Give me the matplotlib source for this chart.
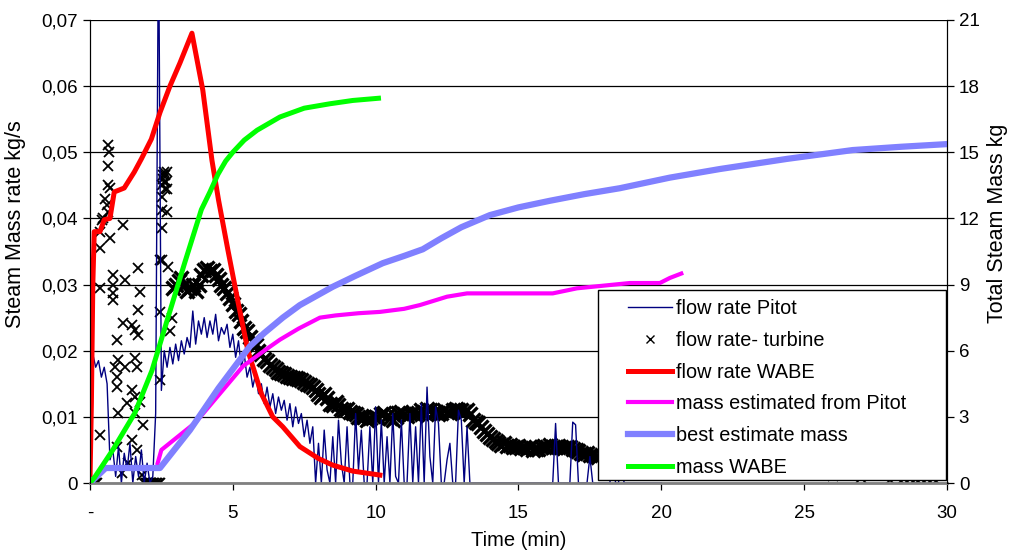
import numpy as np
import matplotlib.pyplot as plt
from matplotlib.lines import Line2D
from matplotlib.patches import Rectangle
from matplotlib.ticker import FuncFormatter

plt.rcParams['font.family'] = ['Liberation Sans', 'DejaVu Sans']

# ---- flow rate Pitot (kg/s), one sample every 0.1 min from t=0 ----
pitot_v = [
    0.0, 0.0195, 0.0175, 0.0185, 0.016, 0.0175, 0.015, 0.0035, 0.005, 0.001,
    0.0055, 0.0, 0.0045, 0.002, 0.006, 0.0, 0.004, 0.001, 0.005, 0.0,
    0.003, 0.0, 0.001, 0.0105, 0.085, 0.014, 0.020, 0.0175, 0.0205, 0.018,
    0.021, 0.0185, 0.0215, 0.0195, 0.022, 0.0205, 0.026, 0.021, 0.0245, 0.0225,
    0.025, 0.022, 0.0245, 0.0225, 0.0255, 0.0215, 0.0235, 0.0225, 0.024, 0.0205,
    0.0225, 0.019, 0.0215, 0.0175, 0.0195, 0.016, 0.0175, 0.0145, 0.0165, 0.0135,
    0.015, 0.012, 0.0145, 0.0115, 0.0135, 0.0105, 0.013, 0.011, 0.0125, 0.0095,
    0.012, 0.0085, 0.0115, 0.009, 0.0105, 0.007, 0.0095, 0.006, 0.0085, 0.0,
    0.006, 0.0, 0.008, 0.002, 0.0, 0.007, 0.0, 0.0095, 0.003, 0.0,
    0.0085, 0.0, 0.0, 0.0105, 0.002, 0.008, 0.0, 0.0, 0.0085, 0.0,
    0.0115, 0.0, 0.0095, 0.0, 0.007, 0.0, 0.0105, 0.001, 0.0, 0.0095,
    0.0, 0.0, 0.0105, 0.0, 0.0085, 0.0, 0.012, 0.0, 0.0145, 0.004,
    0.0, 0.0115, 0.009, 0.0, 0.0, 0.0035, 0.006, 0.0, 0.0, 0.011,
    0.0095, 0.0, 0.0085, 0.0, 0.0, 0.0, 0.0, 0.0, 0.0, 0.0,
    0.0, 0.0, 0.0, 0.0, 0.0, 0.0, 0.0, 0.0, 0.0, 0.0,
    0.0, 0.0, 0.0, 0.0, 0.0, 0.0, 0.0, 0.0, 0.0, 0.0,
    0.0, 0.0, 0.0, 0.009, 0.0, 0.0, 0.0, 0.0, 0.0, 0.0092,
    0.0088, 0.0, 0.0, 0.0, 0.0, 0.004, 0.0, 0.0, 0.0, 0.0,
    0.0, 0.0, 0.0, 0.004, 0.0, 0.0, 0.003, 0.0, 0.0, 0.0,
    0.0, 0.0, 0.0, 0.0, 0.0, 0.0, 0.0, 0.0, 0.0, 0.0,
    0.0,
]
pitot_t = np.arange(len(pitot_v)) * 0.1

# ---- flow rate turbine (kg/s) ----
# scattered readings during the first minutes
turb_early_t = [0.0, 0.05, 0.1, 0.15, 0.2, 0.25, 0.18, 0.35, 0.35, 0.35, 0.35, 0.42, 0.46,
                0.53, 0.6, 0.63, 0.63, 0.66, 0.63, 0.63, 0.70, 0.70, 0.80, 0.80, 0.80,
                0.80, 0.875, 0.945, 0.945, 0.945, 0.945, 0.98, 0.98, 1.12, 1.155, 1.155,
                1.225, 1.225, 1.3, 1.33, 1.47, 1.47, 1.47, 1.575, 1.575, 1.575, 1.575,
                1.645, 1.645, 1.68, 1.68, 1.68, 1.75, 1.75, 1.82, 1.855, 1.9, 1.95, 2.0,
                2.05, 2.1, 2.15, 2.2, 2.25, 2.3, 2.35, 2.4, 2.45]
turb_early_v = [0.0, 0.0, 0.0, 0.0, 0.0, 0.0, 0.0005, 0.038, 0.0355, 0.0295, 0.0073, 0.0398,
                0.040, 0.043, 0.042, 0.041, 0.0511, 0.050, 0.048, 0.045, 0.0446, 0.037,
                0.0315, 0.030, 0.0287, 0.0277, 0.0175, 0.0216, 0.016, 0.0145, 0.0055,
                0.0186, 0.0106, 0.0015, 0.039, 0.0242, 0.0307, 0.0175, 0.0121, 0.003,
                0.0239, 0.014, 0.0065, 0.0231, 0.0189, 0.013, 0.0106, 0.0175, 0.005,
                0.0325, 0.0262, 0.0224, 0.0289, 0.0122, 0.0012, 0.0088, 0.0, 0.0, 0.0,
                0.0, 0.0, 0.0, 0.0, 0.0, 0.0, 0.0, 0.0, 0.0]
# burst after the valve opening
turb_burst_t = [2.45, 2.45, 2.45, 2.52, 2.52, 2.52, 2.52, 2.52, 2.55, 2.57, 2.59, 2.6,
                2.63, 2.64, 2.66, 2.68, 2.7, 2.7, 2.73, 2.8, 2.87]
turb_burst_v = [0.0259, 0.0156, 0.0337, 0.0337, 0.0385, 0.0413, 0.0433, 0.045, 0.046,
                0.0465, 0.047, 0.0455, 0.0465, 0.0445, 0.0455, 0.047, 0.0445, 0.041,
                0.0327, 0.023, 0.025]
# continuous band, one reading every 0.1 min from t=2.9
turb_band_v = [
    0.0295, 0.0300, 0.0305, 0.0310, 0.0300, 0.0290, 0.0295, 0.0300, 0.0290, 0.0300,
    0.0315, 0.0322, 0.0325, 0.0320, 0.0322, 0.0315, 0.0308, 0.0300, 0.0295, 0.0288,
    0.0280, 0.0270, 0.0260, 0.0255, 0.0245, 0.0235, 0.0230, 0.0220, 0.0215, 0.0208,
    0.0200, 0.0195, 0.0188, 0.0185, 0.0178, 0.0175, 0.0172, 0.0168, 0.0166, 0.0165,
    0.0162, 0.0160, 0.0158, 0.0158, 0.0157, 0.0155, 0.0152, 0.0150, 0.0148, 0.0145,
    0.0140, 0.0135, 0.0130, 0.0135, 0.0128, 0.0120, 0.0118, 0.0122, 0.0118, 0.0112,
    0.0110, 0.0112, 0.0108, 0.0106, 0.0104, 0.0100, 0.0098, 0.0100, 0.0096, 0.0098,
    0.0102, 0.0100, 0.0098, 0.0104, 0.0106, 0.0102, 0.0098, 0.0095, 0.0100, 0.0106,
    0.0108, 0.0104, 0.0102, 0.0104, 0.0106, 0.0103, 0.0106, 0.0110, 0.0108, 0.0112,
    0.0110, 0.0106, 0.0108, 0.0104, 0.0106, 0.0110, 0.0108, 0.0106, 0.0110, 0.0112,
    0.0110, 0.0111, 0.0108, 0.0110, 0.0104, 0.0096, 0.0092, 0.0090, 0.0085, 0.0078,
    0.0074, 0.0070, 0.0066, 0.0064, 0.0060, 0.0058, 0.0060, 0.0056, 0.0058, 0.0055,
    0.0054, 0.0056, 0.0053, 0.0055, 0.0052, 0.0054, 0.0050, 0.0052, 0.0051, 0.0054,
    0.0056, 0.0055, 0.0057, 0.0055, 0.0054, 0.0056, 0.0054, 0.0053, 0.0055, 0.0054,
    0.0052, 0.0050, 0.0048, 0.0046, 0.0044, 0.0045, 0.0042, 0.0043, 0.0041, 0.0040,
]
turb_band_t = 2.9 + np.arange(len(turb_band_v)) * 0.1
# tail (mostly behind the legend)
turb_late_t = [18.0, 18.5, 19.0, 19.5, 20.0, 21.0, 22.0, 23.0, 24.0, 25.0, 26.0, 27.0,
               28.0, 28.4, 28.6, 28.8, 29.0, 29.2, 29.4, 29.6, 29.8, 29.9, 30.0]
turb_late_v = [0.0040, 0.0038, 0.0035, 0.0033, 0.0030, 0.0027, 0.0024, 0.0020, 0.0017,
               0.0014, 0.0010, 0.0007, 0.0004, 0.0003, 0.0002, 0.0002, 0.0003, 0.0002,
               0.0002, 0.0003, 0.0015, 0.0025, 0.0025]

# ---- flow rate WABE (kg/s) ----
wabe_t = [0, 0.05, 0.1, 0.15, 0.35, 0.5, 0.7, 0.85, 1.2, 1.55, 1.8, 2.15, 2.45, 2.8,
          3.15, 3.57, 3.95, 4.27, 4.5, 4.83, 5.2, 5.53, 6.0, 6.4, 6.75, 7.35, 8.0, 8.5,
          9.2, 10.15]
wabe_v = [0, 0.012, 0.03, 0.038, 0.038, 0.0398, 0.040, 0.044, 0.0446, 0.047, 0.049,
          0.052, 0.056, 0.060, 0.0635, 0.068, 0.0594, 0.0488, 0.0428, 0.0352, 0.027,
          0.020, 0.0135, 0.010, 0.0085, 0.0055, 0.0037, 0.0027, 0.0018, 0.0012]

# ---- masses (kg, right axis) ----
mpitot_t = [2.37, 2.5, 3.7, 5.36, 6.1, 6.65, 7.3, 8.05, 8.6, 9.4, 10.15, 11.0, 11.55,
            12.5, 13.2, 16.2, 17.05, 18.9, 19.95, 20.3, 20.7]
mpitot_v = [0.9, 1.5, 2.75, 5.3, 6.0, 6.5, 7.0, 7.5, 7.6, 7.7, 7.76, 7.9, 8.07, 8.45,
            8.6, 8.6, 8.83, 9.07, 9.07, 9.3, 9.5]

best_t = [0, 0.55, 2.45, 3.5, 4.5, 5.6, 6.1, 6.75, 7.35, 8.5, 9.3, 10.25, 11.0, 11.65,
          12.3, 13.0, 14.0, 15.0, 16.1, 17.3, 18.55, 20.3, 22.05, 24.4, 26.7, 28.4, 30]
best_v = [0, 0.68, 0.68, 2.4, 4.3, 6.2, 6.8, 7.5, 8.07, 8.9, 9.4, 9.97, 10.3, 10.6,
          11.1, 11.6, 12.15, 12.5, 12.8, 13.1, 13.37, 13.85, 14.24, 14.7, 15.1, 15.25,
          15.37]

mwabe_t = [0, 0.17, 0.8, 1.57, 2.17, 2.73, 3.32, 3.9, 4.2, 4.48, 4.75, 5.0, 5.4, 5.85,
           6.65, 7.5, 8.4, 9.2, 10.1]
mwabe_v = [0, 0.27, 1.5, 3.17, 5.1, 7.5, 10.0, 12.4, 13.2, 14.0, 14.6, 15.0, 15.55, 16.0,
           16.6, 17.0, 17.2, 17.35, 17.45]

x_ticks = [0, 5, 10, 15, 20, 25, 30]
x_labels = ['-', '5', '10', '15', '20', '25', '30']

navy = '#000080'
lav = '#8080FF'

fig = plt.figure(figsize=(10.13, 5.52), dpi=100)
ax = fig.add_axes([0.0888, 0.125, 0.846, 0.8388])

mk = dict(marker='x', linestyle='none', color='black', markersize=7, markeredgewidth=1.3)
ax.plot(turb_early_t, turb_early_v, **mk)
ax.plot(turb_burst_t, turb_burst_v, **mk)
ax.plot(turb_band_t, turb_band_v, marker='x', linestyle='none', color='black',
        markersize=10, markeredgewidth=2.4)
ax.plot(turb_late_t, turb_late_v, **mk)
ax.plot(pitot_t, pitot_v, color=navy, lw=1.0)
ax.plot(wabe_t, wabe_v, color='#FF0000', lw=3.6)

ax.set_xlim(0, 30)
ax.set_ylim(0, 0.07)
ax.set_yticks(np.arange(0, 0.0701, 0.01))
ax.yaxis.set_major_formatter(FuncFormatter(
    lambda v, p: '0' if abs(v) < 1e-9 else f'{v:.2f}'.replace('.', ',')))
ax.set_xticks(x_ticks)
ax.set_xticklabels(x_labels)
ax.grid(axis='y', color='black', lw=0.9)
ax.set_axisbelow(True)
ax.tick_params(direction='out', length=5, labelsize=13.5, width=0.9)
ax.tick_params(axis='x', pad=11)
ax.spines['top'].set_visible(False)
ax.spines['bottom'].set_color('#808080')
ax.spines['bottom'].set_linewidth(2)
ax.set_xlabel('Time (min)', fontsize=14.5, labelpad=6)
ax.set_ylabel('Steam Mass rate kg/s', fontsize=15.5)
ax.yaxis.set_label_coords(-0.075, 0.56)

ax2 = ax.twinx()
ax2.plot(mpitot_t, mpitot_v, color='#FF00FF', lw=3.0)
ax2.plot(best_t, best_v, color=lav, lw=4.5)
ax2.plot(mwabe_t, mwabe_v, color='#00FF00', lw=3.6)
ax2.set_ylim(0, 21)
ax2.set_yticks(range(0, 22, 3))
ax2.tick_params(direction='out', length=5, labelsize=13.5, width=0.9)
ax2.spines['top'].set_visible(False)
ax2.spines['bottom'].set_visible(False)
ax2.set_ylabel('Total Steam Mass kg', fontsize=15.5)
ax2.yaxis.set_label_coords(1.047, 0.56)

# legend box (wide white frame) and its entries
ax2.add_patch(Rectangle((0.5928, 0.0065), 0.406, 0.410, transform=ax2.transAxes,
                        facecolor='white', edgecolor='black', lw=1.0, zorder=5,
                        clip_on=False))
handles = [
    Line2D([], [], color=navy, lw=1.0),
    Line2D([], [], marker='x', linestyle='none', color='black', markersize=6),
    Line2D([], [], color='#FF0000', lw=3.6),
    Line2D([], [], color='#FF00FF', lw=3.0),
    Line2D([], [], color=lav, lw=4.5),
    Line2D([], [], color='#00FF00', lw=3.6),
]
labels = ['flow rate Pitot', 'flow rate- turbine', 'flow rate WABE',
          'mass estimated from Pitot', 'best estimate mass', 'mass WABE']
leg = ax2.legend(handles, labels, loc='upper left', bbox_to_anchor=(0.628, 0.398),
                 fontsize=14.3, frameon=False, handlelength=2.2, labelspacing=0.65,
                 borderpad=0, handletextpad=0.2, borderaxespad=0)
leg.set_zorder(6)

fig.savefig('out.png', dpi=100)
